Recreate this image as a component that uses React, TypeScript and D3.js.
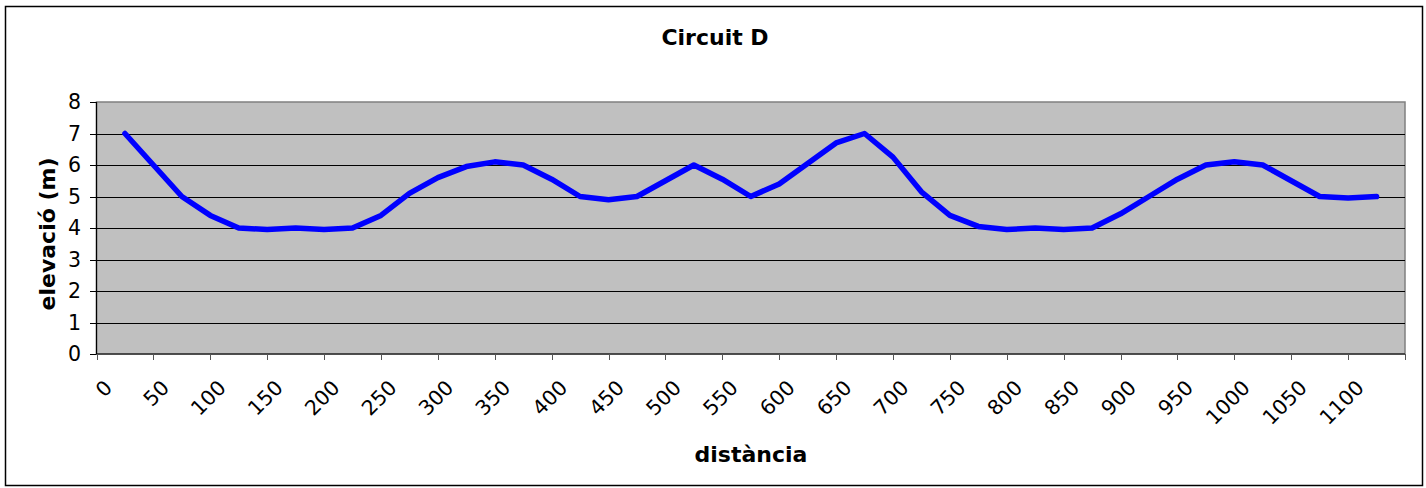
import React from "react";
import * as d3 from "d3";

const distances = [25,50,75,100,125,150,175,200,225,250,275,300,325,350,375,400,425,450,475,500,525,550,575,600,625,650,675,700,725,750,775,800,825,850,875,900,925,950,975,1000,1025,1050,1075,1100,1125];
const elevations = [7.0,6.0,5.0,4.4,4.0,3.95,4.0,3.95,4.0,4.4,5.1,5.6,5.95,6.1,6.0,5.55,5.0,4.9,5.0,5.5,6.0,5.55,5.0,5.4,6.05,6.7,7.0,6.25,5.15,4.4,4.05,3.95,4.0,3.95,4.0,4.45,5.0,5.55,6.0,6.1,6.0,5.5,5.0,4.95,5.0];
const xTickValues = d3.range(0, 1151, 50);
const xLabelValues = d3.range(0, 1101, 50);
const yTickValues = [0,1,2,3,4,5,6,7,8];
const titleText = "Circuit D";
const xTitle = "distància";
const yTitle = "elevació (m)";

export default function App() {
  const W = 1426, H = 488;
  const left = 96.5, right = 1405, top = 102, bottom = 354;
  const x = d3.scaleLinear().domain([0, 1150]).range([left, right]);
  const y = d3.scaleLinear().domain([0, 8]).range([bottom, top]);
  const pts = distances.map((d, i) => [x(d), y(elevations[i])] as [number, number]);
  const line = d3.line<[number, number]>().x(p => p[0]).y(p => p[1]);
  const font = "'DejaVu Sans', Verdana, sans-serif";
  return (
    <svg width={W} height={H} style={{ position: "absolute", left: 0, top: 0, background: "#fff" }} fontFamily={font}>
      <rect x={5.5} y={6.5} width={1417} height={479} fill="#fff" stroke="#000" strokeWidth={1.5} />
      <text x={715} y={37} textAnchor="middle" dominantBaseline="central" fontWeight="bold" fontSize={22}>{titleText}</text>
      <rect x={left} y={top} width={right - left} height={bottom - top} fill="#c0c0c0" stroke="#808080" strokeWidth={1.5} />
      {yTickValues.filter(v => v > 0 && v < 8).map(v => (
        <line key={"g" + v} x1={left} x2={right} y1={Math.round(y(v)) + 0.5} y2={Math.round(y(v)) + 0.5} stroke="#000" strokeWidth={1} />
      ))}
      <line x1={left} x2={left} y1={top} y2={bottom} stroke="#000" strokeWidth={1.2} />
      <line x1={left} x2={right} y1={bottom} y2={bottom} stroke="#000" strokeWidth={1.2} />
      {yTickValues.map(v => (
        <g key={"y" + v}>
          <line x1={left - 6.5} x2={left} y1={Math.round(y(v)) + 0.5} y2={Math.round(y(v)) + 0.5} stroke="#000" strokeWidth={1} />
          <text x={81} y={y(v)} textAnchor="end" dominantBaseline="central" fontSize={20.5}>{v}</text>
        </g>
      ))}
      {xTickValues.map(v => (
        <line key={"xt" + v} x1={Math.round(x(v)) + 0.5} x2={Math.round(x(v)) + 0.5} y1={bottom} y2={bottom + 6} stroke="#555" strokeWidth={1} />
      ))}
      {xLabelValues.map(v => (
        <text key={"xl" + v} transform={`translate(${x(v) + 17},${389}) rotate(-45)`} textAnchor="end" fontSize={20.5}>{v}</text>
      ))}
      <text transform={`translate(47,234) rotate(-90)`} textAnchor="middle" dominantBaseline="central" fontWeight="bold" fontSize={22}>{yTitle}</text>
      <text x={751} y={454} textAnchor="middle" dominantBaseline="central" fontWeight="bold" fontSize={22}>{xTitle}</text>
      <path d={line(pts) || ""} fill="none" stroke="#0000ff" strokeWidth={5.5} strokeLinejoin="round" strokeLinecap="round" />
    </svg>
  );
}
